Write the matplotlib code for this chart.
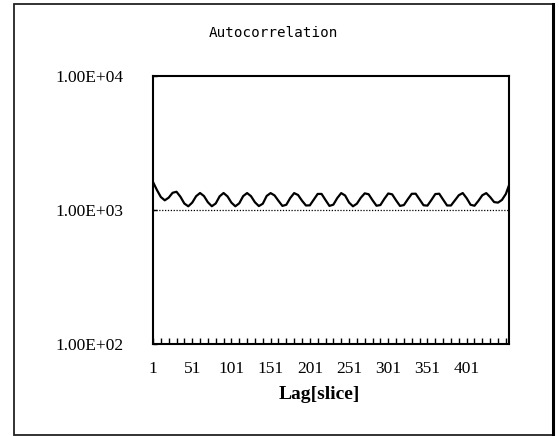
import matplotlib
matplotlib.use("Agg")
import matplotlib.pyplot as plt
from matplotlib.ticker import FixedLocator, FuncFormatter
from matplotlib.patches import Rectangle

# Autocorrelation sampled every 5 lags (last sample at lag 455)
lags = list(range(1, 452, 5)) + [455]
acf = [
    1618, 1410, 1250, 1181, 1236, 1344, 1368, 1255, 1117, 1066,
    1135, 1268, 1339, 1271, 1142, 1067, 1119, 1265, 1339, 1264,
    1135, 1066, 1122, 1270, 1338, 1268, 1142, 1070, 1114, 1274,
    1337, 1285, 1171, 1073, 1094, 1228, 1337, 1294, 1174, 1081,
    1083, 1195, 1318, 1318, 1187, 1073, 1096, 1228, 1337, 1283,
    1137, 1066, 1114, 1234, 1331, 1311, 1182, 1076, 1089, 1211,
    1328, 1309, 1180, 1073, 1089, 1204, 1321, 1323, 1199, 1085,
    1078, 1187, 1315, 1323, 1195, 1081, 1081, 1180, 1289, 1338,
    1225, 1094, 1076, 1171, 1289, 1337, 1248, 1146, 1135, 1189,
    1318, 1530,
]

x_tick_labels = [1, 51, 101, 151, 201, 251, 301, 351, 401]
y_ticks = [1e2, 1e3, 1e4]
grid_levels = [1e3]

W, H = 559, 436
fig = plt.figure(figsize=(W / 100, H / 100), dpi=100)
fig.patch.set_facecolor("white")

# outer chart-area border
fig.add_artist(Rectangle((14 / W, 1 - 435 / H), (553 - 14) / W, (435 - 4) / H,
                         transform=fig.transFigure, fill=False,
                         edgecolor="#222222", linewidth=1.3))
fig.add_artist(plt.Line2D([553 / W, 553 / W], [1 - 435 / H, 1 - 4 / H],
                          transform=fig.transFigure, color="black", linewidth=2.2))

ax = fig.add_axes([153 / W, 1 - 344 / H, (509 - 153) / W, (344 - 76) / H])
ax.set_yscale("log")
ax.set_ylim(1e2, 1e4)
ax.set_xlim(1, 455)

for lvl in grid_levels:
    ax.axhline(lvl, color="black", linestyle=(0, (1, 1.3)), linewidth=0.9, zorder=1)

ax.plot(lags, acf, color="black", linewidth=1.6, zorder=3)

for s in ax.spines.values():
    s.set_linewidth(1.5)
    s.set_color("black")

serif = "Liberation Serif"
ax.xaxis.set_major_locator(FixedLocator(x_tick_labels))
ax.xaxis.set_minor_locator(FixedLocator(list(range(1, 456, 10))))
ax.tick_params(axis="x", which="major", direction="in", length=4, width=1.0,
               pad=12, labelsize=12.5)
ax.tick_params(axis="x", which="minor", direction="in", length=4, width=1.0)
for lbl in ax.get_xticklabels():
    lbl.set_family(serif)

ax.yaxis.set_major_locator(FixedLocator(y_ticks))
ax.yaxis.set_minor_locator(FixedLocator([]))
ax.yaxis.set_major_formatter(FuncFormatter(lambda v, p: "%.2E" % v))
ax.tick_params(axis="y", which="major", direction="in", length=3, width=1.0,
               pad=21, labelsize=12.5)
for lbl in ax.get_yticklabels():
    lbl.set_family(serif)

fig.text(273 / W, 1 - 33 / H, "Autocorrelation", ha="center", va="center",
         fontsize=10.3, family="DejaVu Sans Mono")
fig.text(319 / W, 1 - 394 / H, "Lag[slice]", ha="center", va="center",
         fontsize=14, family=serif, fontweight="bold")

fig.savefig("out.png", dpi=100)
